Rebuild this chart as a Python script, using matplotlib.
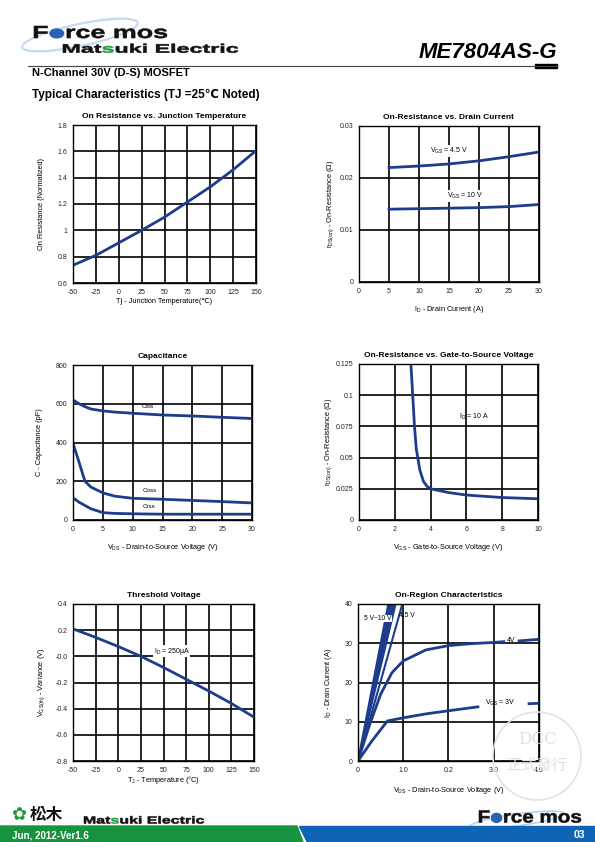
import numpy as np
import matplotlib
matplotlib.use("Agg")
import matplotlib.pyplot as plt
from matplotlib.patches import Polygon, Ellipse, Rectangle, PathPatch
from matplotlib.textpath import TextPath
from matplotlib.font_manager import FontProperties
from matplotlib.transforms import Affine2D

plt.rcParams['font.family'] = ['Liberation Sans', 'DejaVu Sans', 'Noto Sans CJK TC']
plt.rcParams['mathtext.fontset'] = 'custom'
plt.rcParams['mathtext.rm'] = 'Liberation Sans'
plt.rcParams['mathtext.it'] = 'Liberation Sans:italic'
plt.rcParams['mathtext.bf'] = 'Liberation Sans:bold'
plt.rcParams['mathtext.fallback'] = 'stixsans'
plt.rcParams['axes.unicode_minus'] = False

W, H = 595, 842
CURVE = '#1d3c8c'

# ---- data ----
# On resistance vs junction temperature
tj1 = [-50, -25, 0, 25, 50, 75, 100, 125, 150]
rn1 = [0.735, 0.81, 0.905, 1.0, 1.1, 1.215, 1.33, 1.46, 1.605]

# On-resistance vs drain current
id2 = [5, 10, 15, 20, 25, 30]
r45 = [0.0220, 0.0223, 0.0227, 0.0233, 0.0241, 0.0250]
r10 = [0.0140, 0.0141, 0.0142, 0.0143, 0.0145, 0.0149]

# Capacitance
vds3 = [0, 1, 2, 3, 5, 7, 10, 15, 20, 25, 30]
ciss = [620, 600, 585, 573, 563, 557, 551, 542, 537, 530, 524]
coss = [395, 300, 200, 170, 140, 123, 112, 107, 101, 95, 88]
crss = [115, 92, 75, 58, 38, 34, 32, 30, 30, 30, 30]

# On-resistance vs gate-to-source voltage
vgs4 = [2.9, 3.0, 3.1, 3.2, 3.4, 3.6, 3.8, 4.0, 5, 6, 7, 8, 9, 10]
rds4 = [0.125, 0.100, 0.075, 0.057, 0.040, 0.031, 0.027, 0.025, 0.022, 0.020,
        0.019, 0.018, 0.0175, 0.017]

# Threshold voltage
tj5 = [-50, -25, 0, 25, 50, 75, 100, 125, 150]
vth5 = [0.21, 0.145, 0.075, 0.0, -0.085, -0.175, -0.265, -0.36, -0.465]

# On-region characteristics
vds6_3a = [0, 0.3, 0.65, 1.0, 1.5, 2.0, 2.65]
id6_3a = [0, 5, 10.2, 11.0, 12.0, 12.8, 13.8]
vds6_3b = [3.78, 4.0]
id6_3b = [14.6, 14.7]
vds6_4a = [0, 0.25, 0.5, 0.75, 1.0, 1.5, 2.0, 2.5, 3.0, 3.22]
id6_4a = [0, 9, 17, 22.5, 25.5, 28.3, 29.4, 29.9, 30.2, 30.4]
vds6_4b = [3.56, 4.0]
id6_4b = [30.6, 31.0]
vds6_45 = [0, 0.5, 0.98]
id6_45 = [0, 20.3, 40]
vds6_5 = [0, 0.83]
vds6_10 = [0, 0.67]
id6_5 = [0, 40]


def px_axes(x0, y0, x1, y1):
    return fig.add_axes([x0 / W, 1 - y1 / H, (x1 - x0) / W, (y1 - y0) / H])


def style(ax, title, xlabel, ylabel, xlim, ylim, xt, yt, xtl=None, ytl=None,
          xpad=7, ypad=9):
    ax.set_xlim(*xlim)
    ax.set_ylim(*ylim)
    ax.set_xticks(xt)
    ax.set_yticks(yt)
    if xtl is not None:
        ax.set_xticklabels(xtl)
    if ytl is not None:
        ax.set_yticklabels(ytl)
    ax.tick_params(length=0, labelsize=5, pad=4, colors='#222222')
    ax.grid(True, color='black', lw=1.2)
    ax.set_axisbelow(True)
    for s in ax.spines.values():
        s.set_color('black')
        s.set_linewidth(1.0)
    ax.set_title(title, fontsize=6, fontweight='bold', pad=5)
    ax.set_xlabel(xlabel, fontsize=5.3, labelpad=xpad)
    ax.set_ylabel(ylabel, fontsize=5.3, labelpad=ypad)


fig = plt.figure(figsize=(W / 100, H / 100), dpi=100)

FP = FontProperties(family='Liberation Sans', weight='bold')
CAP = TextPath((0, 0), 'F', size=1, prop=FP).get_extents().y1


def wordmark(x, y, txt, cap, width, green=None, ball=None):
    # wide heavy logo lettering, x/y = left edge and baseline in pixels
    tp = TextPath((0, 0), txt, size=1, prop=FP)
    ext = tp.get_extents()
    sx, sy = width / ext.width, cap / CAP
    tr = Affine2D().translate(-ext.x0, 0).scale(sx, sy).translate(x, H - y)
    fig.add_artist(PathPatch(tp, transform=tr, fc='#111111', ec='#111111', lw=0.4))
    if green is not None:
        cp = TextPath((0, 0), txt[green], size=1, prop=FP)
        off = (TextPath((0, 0), txt[:green + 1], size=1, prop=FP).get_extents().x1
               - cp.get_extents().x1)
        # white knock-out first, then the green letter
        t2 = Affine2D().translate(off, 0) + tr
        fig.add_artist(PathPatch(cp, transform=t2, fc='white', ec='white', lw=0.9))
        fig.add_artist(PathPatch(cp, transform=t2, fc='#1e9a3c', ec='#1e9a3c', lw=0.3))
    if ball is not None:
        cp = TextPath((0, 0), txt[ball], size=1, prop=FP)
        ce = cp.get_extents()
        off = (TextPath((0, 0), txt[:ball + 1], size=1, prop=FP).get_extents().x1
               - ce.x1)
        cx = (off + (ce.x0 + ce.x1) / 2 - ext.x0) * sx + x
        cy = H - y + (ce.y0 + ce.y1) / 2 * sy
        w = (ce.x1 - ce.x0) * sx + 1.5
        h = (ce.y1 - ce.y0) * sy + 1.5
        fig.add_artist(Ellipse((cx, cy), w, h, transform=Affine2D(),
                               fc='#2a62b8', ec='white', lw=0.5))


# ---- header ----
fig.add_artist(Ellipse((80, H - 35), 118, 22, angle=12, transform=Affine2D(),
                       fill=False, ec='#c4dbf1', lw=1.6))
wordmark(34, 38, 'Force mos', 12, 133, ball=1)
wordmark(63, 52.7, 'Matsuki Electric', 8.5, 175, green=3)
fig.text(557 / W, 1 - 58 / H, 'ME7804AS-G', fontsize=16, fontweight='bold',
         style='italic', ha='right', va='baseline')
fig.lines.append(plt.Line2D([28 / W, 557 / W], [1 - 66 / H, 1 - 66 / H],
                            transform=fig.transFigure, color='#444444', lw=0.8))
fig.patches.append(Rectangle((535 / W, 1 - 67.5 / H), 22 / W, 3.5 / H,
                             transform=fig.transFigure, color='black'))
fig.text(32 / W, 1 - 73.5 / H, 'N-Channel 30V (D-S) MOSFET', fontsize=8,
         fontweight='bold', va='center')
fig.text(32 / W, 1 - 95 / H, 'Typical Characteristics (TJ =25℃ Noted)', fontsize=8.5,
         fontweight='bold', va='center')

# ---- chart 1 ----
ax = px_axes(73, 125, 256, 283)
style(ax, 'On Resistance vs. Junction Temperature', 'Tj - Junction Temperature(℃)',
      'On Resistance (Normalized)', (-50, 150), (0.6, 1.8),
      [-50, -25, 0, 25, 50, 75, 100, 125, 150], [0.6, 0.8, 1, 1.2, 1.4, 1.6, 1.8],
      ytl=['0.6', '0.8', '1', '1.2', '1.4', '1.6', '1.8'], xpad=2)
ax.plot(tj1, rn1, color=CURVE, lw=2)

# ---- chart 2 ----
ax = px_axes(359, 126, 539, 282)
style(ax, 'On-Resistance vs. Drain Current', 'I$_{\\mathrm{D}}$ - Drain Current (A)',
      'r$_{\\mathrm{DS(on)}}$ - On-Resistance (Ω)', (0, 30), (0, 0.03),
      [0, 5, 10, 15, 20, 25, 30], [0, 0.01, 0.02, 0.03],
      ytl=['0', '0.01', '0.02', '0.03'], ypad=2.5)
ax.plot(id2, r45, color=CURVE, lw=2)
ax.plot(id2, r10, color=CURVE, lw=2)
ax.text(15, 0.0252, 'V$_{\\mathrm{GS}}$ = 4.5 V', fontsize=5, ha='center', va='center',
        bbox=dict(fc='white', ec='none', pad=0.5))
ax.text(17.7, 0.0165, 'V$_{\\mathrm{GS}}$ = 10 V', fontsize=5, ha='center', va='center',
        bbox=dict(fc='white', ec='none', pad=0.5))

# ---- chart 3 ----
ax = px_axes(73, 365, 252, 520)
style(ax, 'Capacitance', 'V$_{\\mathrm{DS}}$ - Drain-to-Source Voltage (V)',
      'C - Capacitance (pF)', (0, 30), (0, 800),
      [0, 5, 10, 15, 20, 25, 30], [0, 200, 400, 600, 800])
ax.plot(vds3, ciss, color=CURVE, lw=2)
ax.plot(vds3, coss, color=CURVE, lw=2)
ax.plot(vds3, crss, color=CURVE, lw=2)
ax.text(12.5, 585, 'Ciss', fontsize=4.5, ha='center', va='center')
ax.text(12.8, 150, 'Coss', fontsize=4.5, ha='center', va='center')
ax.text(12.8, 68, 'Crss', fontsize=4.5, ha='center', va='center')

# ---- chart 4 ----
ax = px_axes(359, 364, 538, 520)
style(ax, 'On-Resistance vs. Gate-to-Source Voltage',
      'V$_{\\mathrm{GS}}$ - Gate-to-Source Voltage (V)',
      'r$_{\\mathrm{DS(on)}}$ - On-Resistance (Ω)', (0, 10), (0, 0.125),
      [0, 2, 4, 6, 8, 10], [0, 0.025, 0.05, 0.075, 0.1, 0.125],
      ytl=['0', '0.025', '0.05', '0.075', '0.1', '0.125'], ypad=1.5)
ax.plot(vgs4, rds4, color=CURVE, lw=2)
ax.text(5.6, 0.083, 'I$_{\\mathrm{D}}$ = 10 A', fontsize=5, ha='left', va='center')

# ---- chart 5 ----
ax = px_axes(73, 604, 254, 761)
style(ax, 'Threshold Voltage', 'T$_{\\mathrm{J}}$ - Temperature (°C)',
      'V$_{\\mathrm{GS(th)}}$ - Variance (V)', (-50, 150), (-0.8, 0.4),
      [-50, -25, 0, 25, 50, 75, 100, 125, 150], [-0.8, -0.6, -0.4, -0.2, 0, 0.2, 0.4],
      ytl=['-0.8', '-0.6', '-0.4', '-0.2', '-0.0', '0.2', '0.4'], xpad=0.5, ypad=6)
ax.plot(tj5, vth5, color=CURVE, lw=2)
ax.text(59, 0.04, 'I$_{\\mathrm{D}}$ = 250µA', fontsize=5, ha='center', va='center',
        bbox=dict(fc='white', ec='none', pad=0.5))

# ---- chart 6 ----
ax = px_axes(358, 604, 539, 761)
style(ax, 'On-Region Characteristics', 'V$_{\\mathrm{DS}}$ - Drain-to-Source Voltage (V)',
      'I$_{\\mathrm{D}}$ - Drain Current (A)', (0, 4), (0, 40),
      [0, 1, 2, 3, 4], [0, 10, 20, 30, 40],
      xtl=['0', '1.0', '0.2', '3.0', '4.0'], xpad=8.5, ypad=7.5)
ax.fill([vds6_5[0], vds6_10[1], vds6_5[1]], [id6_5[0], id6_5[1], id6_5[1]],
        color=CURVE, lw=0)
ax.plot(vds6_5, id6_5, color=CURVE, lw=1.5)
ax.plot(vds6_10, id6_5, color=CURVE, lw=1.5)
ax.plot(vds6_45, id6_45, color=CURVE, lw=1.5)
ax.plot(vds6_4a, id6_4a, color=CURVE, lw=2)
ax.plot(vds6_4b, id6_4b, color=CURVE, lw=2)
ax.plot(vds6_3a, id6_3a, color=CURVE, lw=2)
ax.plot(vds6_3b, id6_3b, color=CURVE, lw=2)
ax.text(0.43, 36.3, '5 V~10 V', fontsize=4.8, ha='center', va='center',
        bbox=dict(fc='white', ec='none', pad=0.3))
ax.text(1.08, 37.0, '4.5 V', fontsize=4.8, ha='center', va='center')
ax.text(3.39, 30.6, '4V', fontsize=5, ha='center', va='center')
ax.text(3.15, 14.7, 'V$_{\\mathrm{GS}}$ = 3V', fontsize=5, ha='center', va='center')

# ---- watermark ----
fig.add_artist(Ellipse((537, H - 756), 88, 88, transform=Affine2D(),
                       fill=False, ec='#e2e2e2', lw=1.2))
fig.text(537 / W, 1 - 740 / H, 'DCC', fontsize=12, color='#e0e0e0', ha='center',
         va='center', family='DejaVu Serif')
fig.text(537 / W, 1 - 765 / H, '正式發行', fontsize=11, color='#e0e0e0', ha='center',
         va='center', family=['Noto Sans CJK TC'])

# ---- footer ----
fig.patches.append(Polygon([(0, 0), (303 / W, 0), (297 / W, 1 - 826 / H), (0, 1 - 826 / H)],
                           closed=True, transform=fig.transFigure, color='#17933f'))
fig.patches.append(Polygon([(307 / W, 0), (1, 0), (1, 1 - 826 / H), (299 / W, 1 - 826 / H)],
                           closed=True, transform=fig.transFigure, color='#0f65b5'))
fig.text(12 / W, 1 - 835 / H, 'Jun, 2012-Ver1.6', fontsize=7, color='white',
         fontweight='bold', va='center')
fig.text(585 / W, 1 - 835 / H, '03', fontsize=7.5, color='white',
         fontweight='bold', va='center', ha='right')
fig.text(11 / W, 1 - 815 / H, '✿', fontsize=13, color='#1e9a3c', va='center',
         family=['DejaVu Sans'])
fig.text(30 / W, 1 - 815 / H, '松木', fontsize=12, color='#111111', va='center',
         fontweight='bold', family=['Noto Sans CJK TC'])
wordmark(84, 823.5, 'Matsuki Electric', 7, 120, green=3)
fig.add_artist(Ellipse((517, H - 820), 95, 12, angle=8, transform=Affine2D(),
                       fill=False, ec='#b5d2ee', lw=1.2))
wordmark(479, 822.5, 'Force mos', 12, 102, ball=1)

fig.savefig('out.png', dpi=100)
